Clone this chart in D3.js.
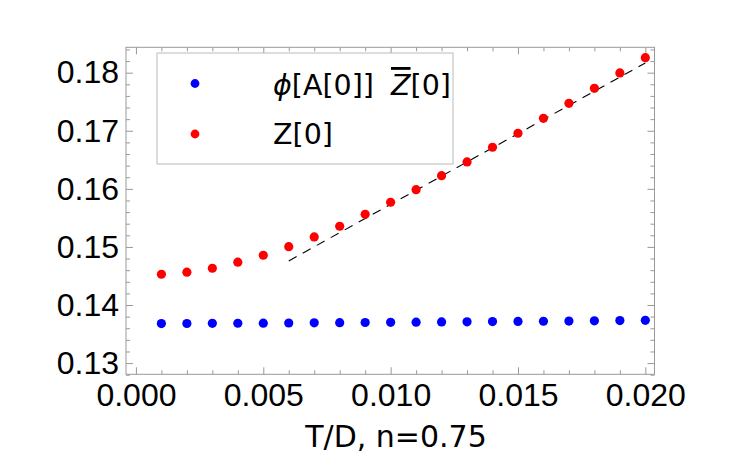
<!DOCTYPE html>
<html>
<head>
<meta charset="utf-8">
<script src="https://cdn.jsdelivr.net/npm/d3@7"></script>
<style>
body { margin: 0; background: #fff; }
text { font-family: "Liberation Sans", Arial, sans-serif; fill: #000; }
.wide { font-family: "DejaVu Sans", sans-serif; }
</style>
</head>
<body>
<div id="chart"></div>
<script>
// data
var tVals = [0.001, 0.002, 0.003, 0.004, 0.005, 0.006, 0.007, 0.008, 0.009, 0.010,
             0.011, 0.012, 0.013, 0.014, 0.015, 0.016, 0.017, 0.018, 0.019, 0.020];
var zVals = [0.1453, 0.14565, 0.14633, 0.14737, 0.14857, 0.15005, 0.15172, 0.15356, 0.15563, 0.15769,
             0.15986, 0.16227, 0.16463, 0.16716, 0.16957, 0.17215, 0.17473, 0.17731, 0.17995, 0.18258];
var phiVals = [0.13680, 0.13682, 0.13684, 0.13686, 0.13688, 0.13690, 0.13693, 0.13696, 0.13699, 0.13702,
               0.13705, 0.13708, 0.13711, 0.13714, 0.13717, 0.13720, 0.13724, 0.13728, 0.13732, 0.13736];
var fitX = [0.006, 0.020];
var fitY = [0.14759, 0.18167];
var xTicks = [0.000, 0.005, 0.010, 0.015, 0.020];
var yTicks = [0.13, 0.14, 0.15, 0.16, 0.17, 0.18];
var xLabel = "T/D, n=0.75";

var svgWidth = 750;
var svgHeight = 469;
var margin = {top: 47.3, right: 95.5, bottom: 94.7, left: 126};
var width = svgWidth - margin.left - margin.right;
var height = svgHeight - margin.top - margin.bottom;

var svg = d3.select("#chart").append("svg")
  .attr("width", svgWidth)
  .attr("height", svgHeight);

var g = svg.append("g")
  .attr("transform", `translate(${margin.left}, ${margin.top})`);

var x = d3.scaleLinear().domain([-0.00039, 0.02036]).range([0, width]);
var y = d3.scaleLinear().domain([0.12807, 0.18437]).range([height, 0]);

var xMinor = d3.range(0, 21).filter(d => d % 5 !== 0).map(d => d / 1000);
var yMinor = d3.range(128, 185, 2).filter(d => d % 10 !== 0).map(d => d / 1000);

var frameColor = "#999";

function styleAxis(sel) {
  sel.select(".domain").remove();
  sel.selectAll("line").attr("stroke", frameColor);
}

// minor ticks, all four sides
g.append("g").attr("transform", `translate(0, ${height})`)
  .call(d3.axisBottom(x).tickValues(xMinor).tickSize(-4).tickFormat("")).call(styleAxis);
g.append("g")
  .call(d3.axisTop(x).tickValues(xMinor).tickSize(-4).tickFormat("")).call(styleAxis);
g.append("g")
  .call(d3.axisLeft(y).tickValues(yMinor).tickSize(-4).tickFormat("")).call(styleAxis);
g.append("g").attr("transform", `translate(${width}, 0)`)
  .call(d3.axisRight(y).tickValues(yMinor).tickSize(-4).tickFormat("")).call(styleAxis);

// major ticks
var xAxis = g.append("g").attr("transform", `translate(0, ${height})`)
  .call(d3.axisBottom(x).tickValues(xTicks).tickSize(-7).tickPadding(9).tickFormat(d3.format(".3f")))
  .call(styleAxis);
xAxis.selectAll("text").style("font-size", "32px").attr("fill", "#000");

g.append("g")
  .call(d3.axisTop(x).tickValues(xTicks).tickSize(-7).tickFormat("")).call(styleAxis);

var yAxis = g.append("g")
  .call(d3.axisLeft(y).tickValues(yTicks).tickSize(-7).tickPadding(7).tickFormat(d3.format(".2f")))
  .call(styleAxis);
yAxis.selectAll("text").style("font-size", "32px").attr("fill", "#000");

g.append("g").attr("transform", `translate(${width}, 0)`)
  .call(d3.axisRight(y).tickValues(yTicks).tickSize(-7).tickFormat("")).call(styleAxis);

// frame
g.append("rect")
  .attr("width", width)
  .attr("height", height)
  .attr("fill", "none")
  .attr("stroke", frameColor)
  .attr("stroke-width", 1);

// fitted dashed line
var line = d3.line().x(d => x(d[0])).y(d => y(d[1]));
g.append("path")
  .datum(d3.zip(fitX, fitY))
  .attr("d", line)
  .attr("fill", "none")
  .attr("stroke", "#000")
  .attr("stroke-width", 1.1)
  .attr("stroke-dasharray", "9,7");

// points
g.selectAll(".z").data(d3.zip(tVals, zVals)).enter()
  .append("circle")
  .attr("class", "z")
  .attr("cx", d => x(d[0]))
  .attr("cy", d => y(d[1]))
  .attr("r", 4.6)
  .attr("fill", "#ff0000");

g.selectAll(".phi").data(d3.zip(tVals, phiVals)).enter()
  .append("circle")
  .attr("class", "phi")
  .attr("cx", d => x(d[0]))
  .attr("cy", d => y(d[1]))
  .attr("r", 4.6)
  .attr("fill", "#0000ff");

// legend
var legend = svg.append("g");
legend.append("rect")
  .attr("x", 157).attr("y", 53)
  .attr("width", 296).attr("height", 111)
  .attr("fill", "#fff")
  .attr("stroke", "#bbb");

legend.append("circle").attr("cx", 195).attr("cy", 83.5).attr("r", 4.4).attr("fill", "#0000ff");
legend.append("circle").attr("cx", 195).attr("cy", 134).attr("r", 4.4).attr("fill", "#ff0000");

var t1 = legend.append("text").attr("class", "wide").attr("x", 273).attr("y", 95).style("font-size", "28.5px");
t1.append("tspan").style("font-style", "italic").text("ϕ");
t1.append("tspan").text("[A[0]] ");
t1.append("tspan").attr("dx", 8).style("font-style", "italic").style("text-decoration", "overline").text("Z");
t1.append("tspan").text("[0]");

legend.append("text").attr("class", "wide").attr("x", 273).attr("y", 143.5).style("font-size", "28.5px").text("Z[0]");

// x axis title
svg.append("text")
  .attr("class", "wide")
  .attr("x", 396)
  .attr("y", 447)
  .attr("text-anchor", "middle")
  .style("font-size", "30px")
  .text(xLabel);
</script>
</body>
</html>
